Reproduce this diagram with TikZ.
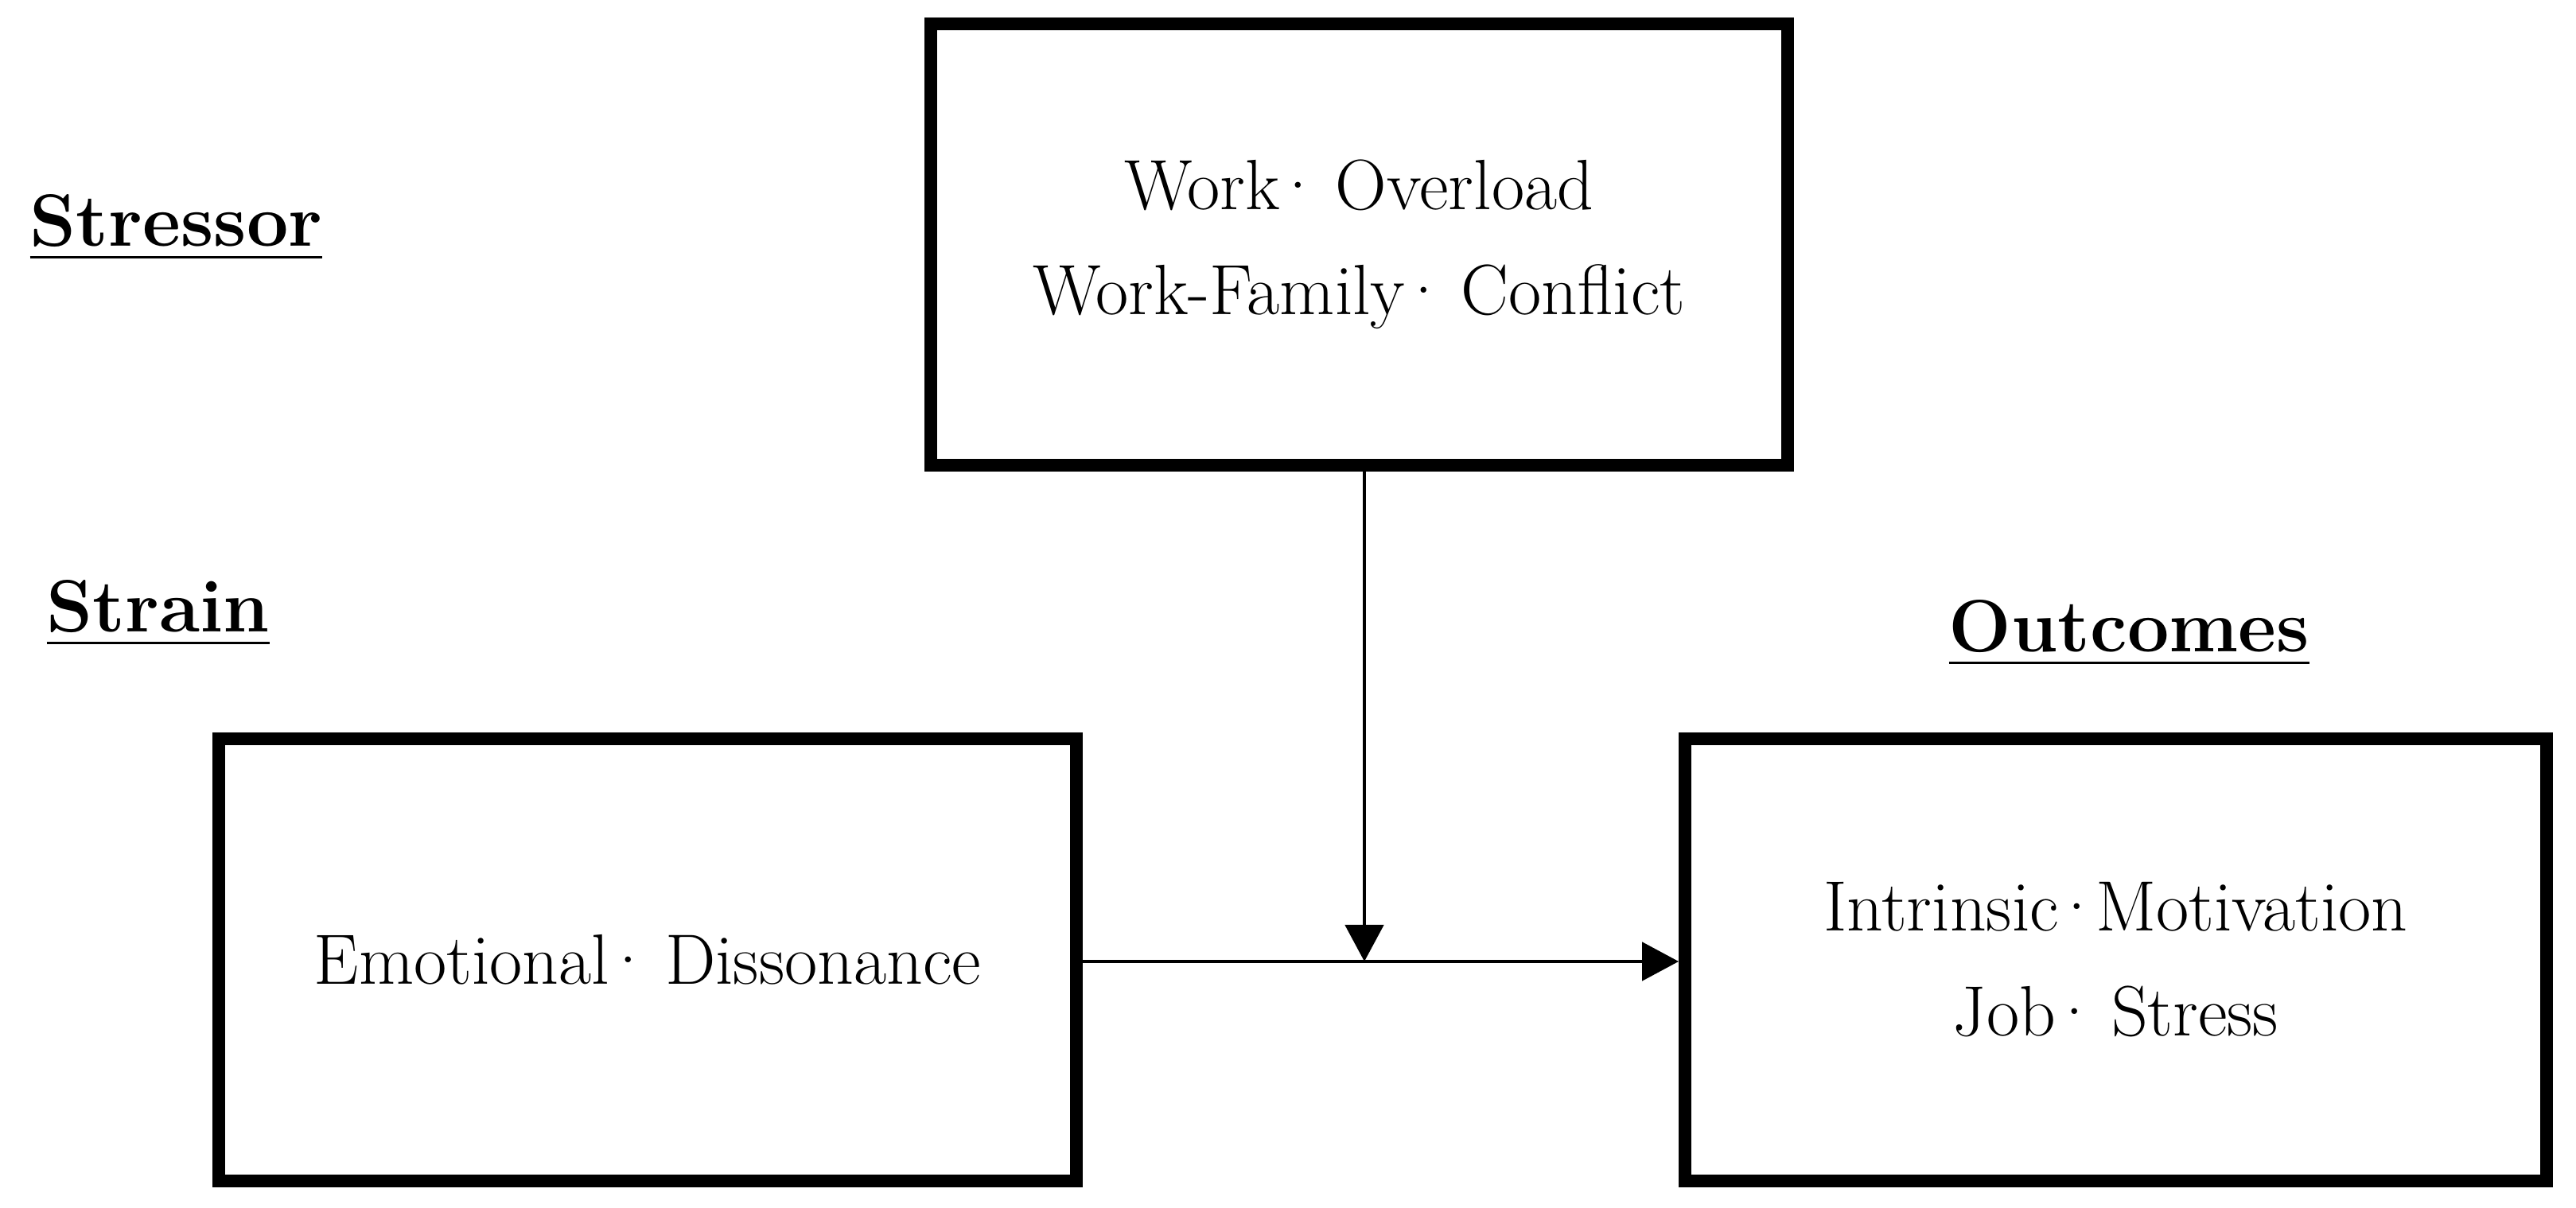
\documentclass[tikz,border=0pt]{standalone}
\usepackage{amsmath}
\usetikzlibrary{arrows.meta}

% 中间点:紧贴前一个词
\newcommand{\mdot}{\kern-0.1em·\kern-0.14em}

\tikzset{
	stagebox/.style={draw, line width=4.5pt, rectangle, inner sep=0pt, align=center,
		font=\fontsize{25.5}{37.5}\selectfont},
	stagelabel/.style={anchor=base west, inner sep=0pt, font=\fontsize{26.5}{30}\selectfont\bfseries},
	flow/.style={line width=1.4pt, -{Triangle[length=4.6mm,width=4.8mm]}}
}

\begin{document}
\begin{tikzpicture}
	% 画布大小,与原图比例一致
	\useasboundingbox (0,0) rectangle (32.38,15.19);
	
	% 三个方框:压力源、紧张、结果
	\node[stagebox, minimum width=10.77cm, minimum height=5.55cm] (stressbox) at (17.085,12.115)
		{Work\mdot{} Overload\\Work-Family\mdot{} Conflict};
	\node[stagebox, minimum width=10.78cm, minimum height=5.56cm] (strainbox) at (8.14,3.12)
		{Emotional\mdot{} Dissonance};
	\node[stagebox, minimum width=10.83cm, minimum height=5.56cm] (outbox) at (26.595,3.12)
		{Intrinsic\mdot\kern0.04em Motivation\\Job\mdot{} Stress};
	
	% 左侧和右侧的标题,加粗并带下划线
	\node[stagelabel] (stressor) at (0.37,12.09) {\underline{Stressor}};
	\node[stagelabel] (strain) at (0.58,7.24) {\underline{Strain}};
	\node[stagelabel] (outcomes) at (24.49,6.99) {\underline{Outcomes}};
	
	% 交汇点,竖线箭头落在横线上
	\coordinate (meet) at (17.15,3.10);
	
	% 箭头
	\draw[flow] (stressbox.south -| meet) -- (meet);
	\draw[flow] (strainbox.east |- meet) -- (outbox.west |- meet);
\end{tikzpicture}
\end{document}
